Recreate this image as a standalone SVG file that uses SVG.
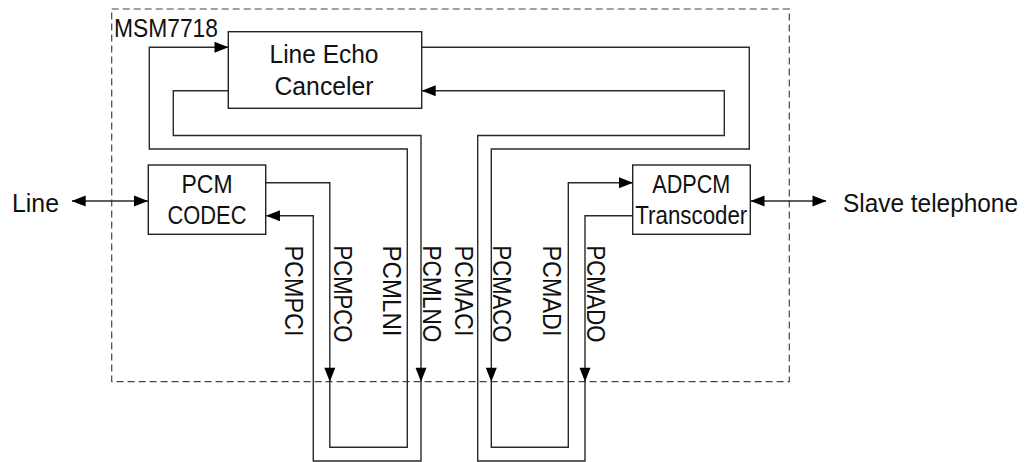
<svg xmlns="http://www.w3.org/2000/svg" xmlns:xlink="http://www.w3.org/1999/xlink" width="1028" height="462" viewBox="0 0 1028 462">
<style>
.t{font-family:"Liberation Sans",Arial,sans-serif;font-size:26.5px;fill:#111}
.m{text-anchor:middle}
.box{fill:#fff;stroke:#222;stroke-width:1.4}
.w{fill:none;stroke:#2a2a2a;stroke-width:1.4}
.ah{fill:#000}
.frame{fill:none;stroke:#444;stroke-width:1.2;stroke-dasharray:7 4}
</style>
<defs>
<path id="ah" d="M0,0 L-14,-5.5 L-14,5.5 Z"/>
</defs>
<rect class="frame" x="111.7" y="9" width="677.6" height="372.7"/>
<text class="t" x="114" y="36.7" textLength="104" lengthAdjust="spacingAndGlyphs">MSM7718</text>

<g id="connectors">
<!-- Line <-> PCM CODEC -->
<path class="w" d="M72,201 H148"/>
<use href="#ah" class="ah" transform="translate(71.7,201) rotate(180)"/>
<use href="#ah" class="ah" transform="translate(148,201)"/>
<!-- Slave telephone <-> ADPCM -->
<path class="w" d="M751,201 H826"/>
<use href="#ah" class="ah" transform="translate(750.5,201) rotate(180)"/>
<use href="#ah" class="ah" transform="translate(826.5,201)"/>
<!-- LEC out -> PCMLNO -> PCMPCI -> CODEC in -->
<path class="w" d="M228,90.7 H173.3 V135.5 H421 V461 H313.3 V215.7 H266.5"/>
<use href="#ah" class="ah" transform="translate(266,215.7) rotate(180)"/>
<use href="#ah" class="ah" transform="translate(421,381.7) rotate(90)"/>
<!-- CODEC out -> PCMPCO -> PCMLNI -> LEC in -->
<path class="w" d="M266,182.7 H329.8 V447.3 H407.3 V149 H149.3 V47.3 H228"/>
<use href="#ah" class="ah" transform="translate(228.5,47.3)"/>
<use href="#ah" class="ah" transform="translate(329.8,381.7) rotate(90)"/>
<!-- LEC out right -> PCMACO -> PCMADI -> ADPCM in -->
<path class="w" d="M422,47.3 H749.3 V149 H491.3 V447.3 H568.3 V182.7 H632.7"/>
<use href="#ah" class="ah" transform="translate(633,182.7)"/>
<use href="#ah" class="ah" transform="translate(491.3,381.7) rotate(90)"/>
<!-- ADPCM out -> PCMADO -> PCMACI -> LEC in right -->
<path class="w" d="M632.7,215.7 H585 V461 H477.7 V135.5 H724.3 V90.7 H422"/>
<use href="#ah" class="ah" transform="translate(421.7,90.7) rotate(180)"/>
<use href="#ah" class="ah" transform="translate(585,381.7) rotate(90)"/>
</g>

<g id="lec">
<rect class="box" x="228.3" y="31.7" width="193.4" height="76.6"/>
<text class="t m" x="324" y="63.3" textLength="109" lengthAdjust="spacingAndGlyphs">Line Echo</text>
<text class="t m" x="324" y="95" textLength="99" lengthAdjust="spacingAndGlyphs">Canceler</text>
</g>
<g id="pcm-codec">
<rect class="box" x="148.3" y="165" width="117.4" height="69.3"/>
<text class="t m" x="207" y="193.3" textLength="51" lengthAdjust="spacingAndGlyphs">PCM</text>
<text class="t m" x="207" y="224" textLength="79" lengthAdjust="spacingAndGlyphs">CODEC</text>
</g>
<g id="adpcm">
<rect class="box" x="632.7" y="165" width="117.6" height="69.3"/>
<text class="t m" x="691.3" y="193.3" textLength="78" lengthAdjust="spacingAndGlyphs">ADPCM</text>
<text class="t m" x="691.3" y="223.5" textLength="112" lengthAdjust="spacingAndGlyphs">Transcoder</text>
</g>
<g id="line">
<text class="t" x="12" y="211.7" textLength="47" lengthAdjust="spacingAndGlyphs">Line</text>
</g>
<g id="slave">
<text class="t" x="843" y="211.7" style="font-size:25.5px" textLength="175" lengthAdjust="spacingAndGlyphs">Slave telephone</text>
</g>
<g id="labels">
<text class="t" transform="translate(285,245.5) rotate(90)" textLength="91" lengthAdjust="spacingAndGlyphs">PCMPCI</text>
<text class="t" transform="translate(334,245.5) rotate(90)" textLength="97" lengthAdjust="spacingAndGlyphs">PCMPCO</text>
<text class="t" transform="translate(383.3,245.5) rotate(90)" textLength="91" lengthAdjust="spacingAndGlyphs">PCMLNI</text>
<text class="t" transform="translate(423.3,245.5) rotate(90)" textLength="97" lengthAdjust="spacingAndGlyphs">PCMLNO</text>
<text class="t" transform="translate(455,245.5) rotate(90)" textLength="91" lengthAdjust="spacingAndGlyphs">PCMACI</text>
<text class="t" transform="translate(492.7,245.5) rotate(90)" textLength="97" lengthAdjust="spacingAndGlyphs">PCMACO</text>
<text class="t" transform="translate(543.3,245.5) rotate(90)" textLength="91" lengthAdjust="spacingAndGlyphs">PCMADI</text>
<text class="t" transform="translate(586.7,245.5) rotate(90)" textLength="97" lengthAdjust="spacingAndGlyphs">PCMADO</text>
</g>
</svg>
